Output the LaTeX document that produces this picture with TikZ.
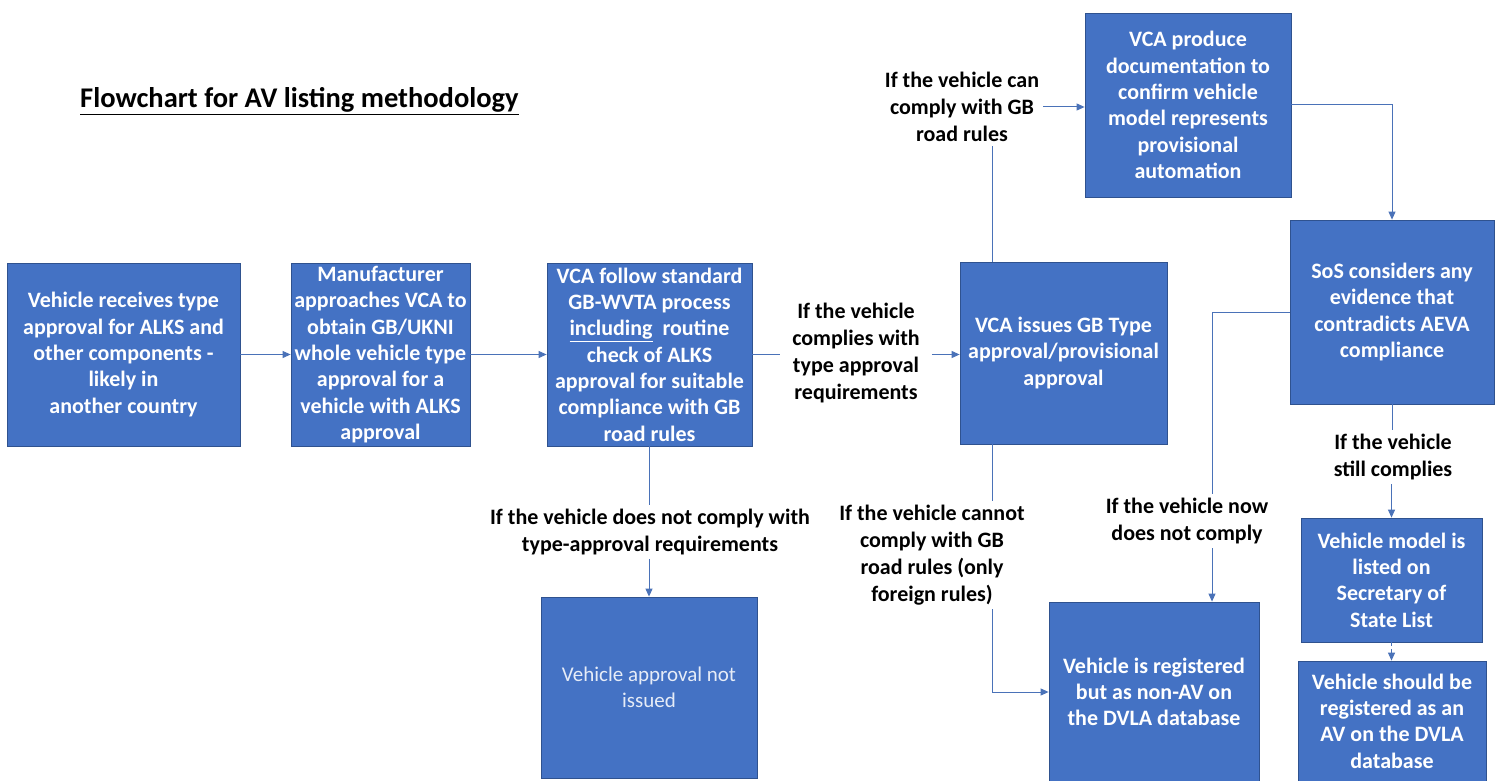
\documentclass[tikz,border=0pt]{standalone}
\usepackage{fontspec}
\setmainfont{Carlito}
\usetikzlibrary{arrows.meta}
\definecolor{boxblue}{HTML}{4472C4}
\definecolor{boxedge}{HTML}{2F528F}
\definecolor{linecol}{HTML}{4A72B8}
\definecolor{lighttext}{HTML}{E6ECF7}
\begin{document}
\begin{tikzpicture}[x=1pt,y=-1pt,
  box/.style={draw=boxedge, line width=0.8pt, fill=boxblue, text=white,
    font=\bfseries\fontsize{22}{26.3}\selectfont, align=center, inner sep=2pt},
  lbl/.style={font=\bfseries\fontsize{22}{27}\selectfont, align=center, text=black, inner sep=4pt},
  conn/.style={draw=linecol, line width=1pt},
  arr/.style={conn, -{Triangle[length=8pt,width=7pt]}},
  darr/.style={arr, dash pattern=on 4pt off 3pt}]
\useasboundingbox (0,0) rectangle (1498,781);
\fill[white] (0,0) rectangle (1498,781);

% title
\node[font=\bfseries\fontsize{28.5}{32}\selectfont, anchor=west, inner sep=0pt] (title) at (80,101) {\underline{Flowchart for AV listing methodology}};

% boxes
\node[box, minimum width=233pt, minimum height=183pt] (b1) at (123.5,354.5)
  {Vehicle receives type\\approval for ALKS and\\other components -\\likely in\\another country};
\node[box, minimum width=179pt, minimum height=183pt] (b2) at (380.5,354.5)
  {Manufacturer\\approaches VCA to\\obtain GB/UKNI\\whole vehicle type\\approval for a\\vehicle with ALKS\\approval};
\node[box, minimum width=205pt, minimum height=183pt] (b3) at (649.5,354.5)
  {VCA follow standard\\GB-WVTA process\\\underline{including}\ \ routine\\check of ALKS\\approval\ for suitable\\compliance\ with GB\\road rules};
\node[box, minimum width=207pt, minimum height=182pt] (b4) at (1063.5,353)
  {VCA issues GB Type\\approval/provisional\\approval};
\node[box, minimum width=206pt, minimum height=184pt] (b5) at (1188,105)
  {VCA produce\\documentation to\\confirm vehicle\\model represents\\provisional\\automation};
\node[box, minimum width=204pt, minimum height=184pt] (b6) at (1392,312)
  {SoS considers any\\evidence that\\contradicts AEVA\\compliance};
\node[box, minimum width=216pt, minimum height=181pt, text=lighttext,
  font=\fontsize{21}{26}\selectfont] (b7) at (649,687.5)
  {Vehicle approval not\\issued};
\node[box, minimum width=210pt, minimum height=180pt] (b8) at (1154,692)
  {Vehicle is registered\\but as non-AV on\\the DVLA database};
\node[box, minimum width=181pt, minimum height=124pt] (b9) at (1391.5,580)
  {Vehicle model is\\listed on\\Secretary of\\State List};
\node[box, minimum width=188pt, minimum height=120pt] (b10) at (1392,721)
  {Vehicle should be\\registered as an\\AV on the DVLA\\database};

% labels
\node[lbl, inner xsep=12pt] (l1) at (856,353) {If the vehicle\\complies with\\type approval\\requirements};
\node[lbl] (l2) at (650,532) {If the vehicle does not comply with\\type-approval requirements};
\node[lbl] (l3) at (962,107) {If the vehicle can\\comply with GB\\road rules};
\node[lbl] (l4) at (932,555) {If the vehicle cannot\\comply with GB\\road rules (only\\foreign rules)};
\node[lbl] (l5) at (1187,521) {If the vehicle now\\does not comply};
\node[lbl] (l6) at (1393,457) {If the vehicle\\still complies};

% helper coordinates
\coordinate (v4) at (992,0);
\coordinate (k5) at (1212,0);

% connectors
\draw[arr] (b1) -- (b2);
\draw[arr] (b2) -- (b3);
\draw[conn] (b3.east) -- (l1.west |- b3.east);
\draw[arr] (l1.east |- b3.east) -- (b4.west |- b3.east);
\draw[conn] (b3.south) -- (b3.south |- l2.north);
\draw[arr] (b7.north |- l2.south) -- (b7.north);
\draw[conn] (v4 |- b4.north) -- (v4 |- l3.south);
\draw[arr] (l3.east) -- (l3.east -| b5.west);
\draw[arr] (b5.east) -| (b6.north);
\draw[conn] (b6.south) -- (b6.south |- l6.north);
\draw[arr] (b9.north |- l6.south) -- (b9.north);
\draw[darr] (b9.south) -- (b9.south |- b10.north);
\draw[conn] (b6.west) -| (k5 |- l5.north);
\draw[arr] (k5 |- l5.south) -- (k5 |- b8.north);
\draw[conn] (v4 |- b4.south) -- (v4 |- l4.north);
\draw[arr] (v4 |- l4.south) |- (b8.west);
\end{tikzpicture}
\end{document}
